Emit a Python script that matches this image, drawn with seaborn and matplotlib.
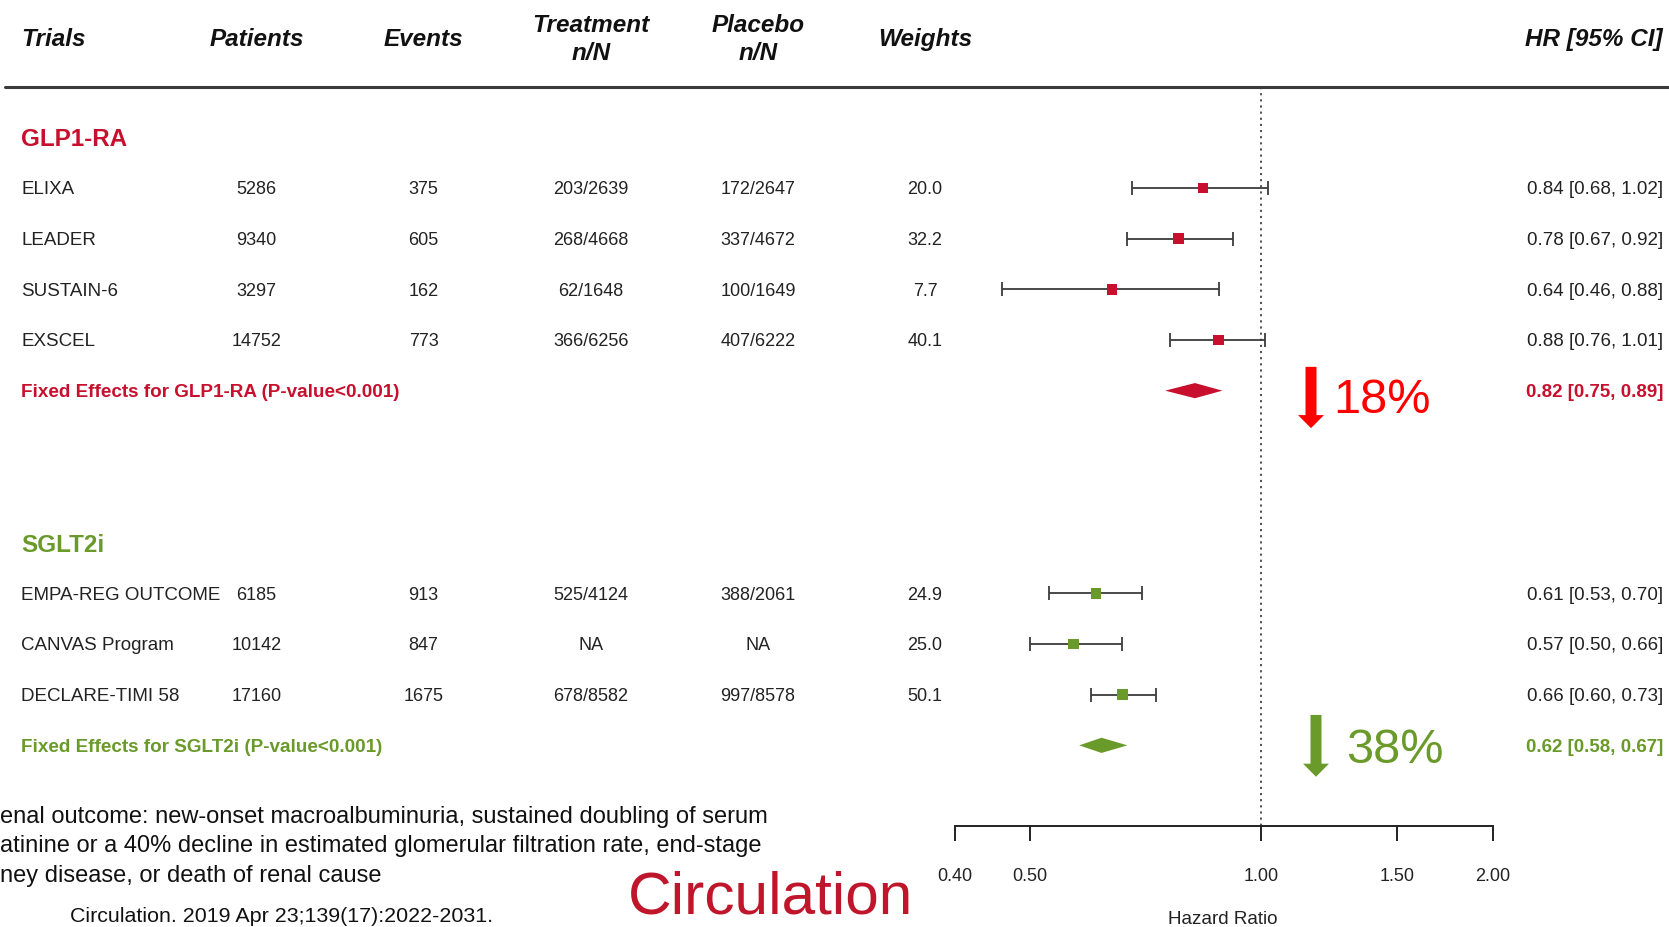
import matplotlib
matplotlib.use('Agg')
import matplotlib.pyplot as plt
import matplotlib.transforms as mtransforms
from matplotlib import font_manager
from matplotlib.ticker import NullLocator
import seaborn as sns
import numpy as np
import pandas as pd

# ---- data ----
GLP_TRIALS = ['ELIXA', 'LEADER', 'SUSTAIN-6', 'EXSCEL']
GLP_PATIENTS = [5286, 9340, 3297, 14752]
GLP_EVENTS = [375, 605, 162, 773]
GLP_TREAT = ['203/2639', '268/4668', '62/1648', '366/6256']
GLP_PLACEBO = ['172/2647', '337/4672', '100/1649', '407/6222']
GLP_WEIGHTS = [20.0, 32.2, 7.7, 40.1]
GLP_HR = [0.84, 0.78, 0.64, 0.88]
GLP_LO = [0.68, 0.67, 0.46, 0.76]
GLP_HI = [1.02, 0.92, 0.88, 1.01]
GLP_POOLED = [0.82, 0.75, 0.89]

SGLT_TRIALS = ['EMPA-REG OUTCOME', 'CANVAS Program', 'DECLARE-TIMI 58']
SGLT_PATIENTS = [6185, 10142, 17160]
SGLT_EVENTS = [913, 847, 1675]
SGLT_TREAT = ['525/4124', 'NA', '678/8582']
SGLT_PLACEBO = ['388/2061', 'NA', '997/8578']
SGLT_WEIGHTS = [24.9, 25.0, 50.1]
SGLT_HR = [0.61, 0.57, 0.66]
SGLT_LO = [0.53, 0.50, 0.60]
SGLT_HI = [0.70, 0.66, 0.73]
SGLT_POOLED = [0.62, 0.58, 0.67]

HEADERS = ['Trials', 'Patients', 'Events', 'Treatment\nn/N', 'Placebo\nn/N', 'Weights']
X_TICKS = [0.40, 0.50, 1.00, 1.50, 2.00]
REDUCTIONS = ['18%', '38%']

FOOTNOTE = ['enal outcome: new-onset macroalbuminuria, sustained doubling of serum',
            'atinine or a 40% decline in estimated glomerular filtration rate, end-stage',
            'ney disease, or death of renal cause']
CITATION = 'Circulation. 2019 Apr 23;139(17):2022-2031.'

RED = '#C8102E'
GREEN = '#6A9A2A'
ARROW_RED = '#FF0000'

# ---- layout (pixels of a 1669 x 927 canvas) ----
W, H = 1669, 927
sns.set_theme(style='white')
plt.rcParams['font.family'] = ['Liberation Sans', 'DejaVu Sans']
_names = {f.name for f in font_manager.fontManager.ttflist}
NARROW = 'Liberation Sans Narrow' if 'Liberation Sans Narrow' in _names else None

fig = plt.figure(figsize=(W / 100, H / 100), dpi=100)
ax = fig.add_axes([0, 0, 1, 1])
ax.set_xscale('log')

# x: 0.40 sits at 955 px, 2.00 at 1493 px
x04, x20 = 955.0, 1493.0
k = (x20 - x04) / np.log(2.0 / 0.4)
ax.set_xlim(0.4 * np.exp(-x04 / k), 2.0 * np.exp((W - x20) / k))
# y: one unit per row, row 0 (GLP1-RA label) at 137 px, 50.7 px per row
y0, dy = 137.3, 50.67
ax.set_ylim((H - y0) / dy, -y0 / dy)

tr = mtransforms.blended_transform_factory(ax.transAxes, ax.transData)
def fx(px):
    return px / W

# ---- table frame ----
rows = []
for i in range(len(GLP_TRIALS)):
    rows.append(dict(group='GLP1-RA', trial=GLP_TRIALS[i], patients=GLP_PATIENTS[i],
                     events=GLP_EVENTS[i], treat=GLP_TREAT[i], placebo=GLP_PLACEBO[i],
                     weight=GLP_WEIGHTS[i], hr=GLP_HR[i], lo=GLP_LO[i], hi=GLP_HI[i],
                     row=1 + i))
for i in range(len(SGLT_TRIALS)):
    rows.append(dict(group='SGLT2i', trial=SGLT_TRIALS[i], patients=SGLT_PATIENTS[i],
                     events=SGLT_EVENTS[i], treat=SGLT_TREAT[i], placebo=SGLT_PLACEBO[i],
                     weight=SGLT_WEIGHTS[i], hr=SGLT_HR[i], lo=SGLT_LO[i], hi=SGLT_HI[i],
                     row=9 + i))
df = pd.DataFrame(rows)
pooled = pd.DataFrame({'group': ['GLP1-RA', 'SGLT2i'],
                       'est': [GLP_POOLED[0], SGLT_POOLED[0]],
                       'lo': [GLP_POOLED[1], SGLT_POOLED[1]],
                       'hi': [GLP_POOLED[2], SGLT_POOLED[2]],
                       'label_row': [0, 8], 'row': [5, 12],
                       'color': [RED, GREEN]})
palette = {'GLP1-RA': RED, 'SGLT2i': GREEN}

# ---- header ----
col_x = [21, 256.5, 423.6, 590.7, 757.9, 925]
for j, (h, cx) in enumerate(zip(HEADERS, col_x)):
    ax.text(fx(cx), -1.93, h, transform=tr, ha='left' if j == 0 else 'center',
            va='center', fontsize=17.5, fontweight='bold', fontstyle='italic',
            color='#111111', linespacing=1.32)
ax.text(fx(1663), -1.93, 'HR [95% CI]', transform=tr, ha='right', va='center',
        fontsize=17.5, fontweight='bold', fontstyle='italic', color='#111111')
ax.axhline(-1, xmin=5 / W, xmax=1, color='#3a3a3a', lw=2.2)

# ---- table text ----
for _, r in df.iterrows():
    vals = [r.trial, str(r.patients), str(r.events), r.treat, r.placebo, f'{r.weight:.1f}']
    for j, (v, cx) in enumerate(zip(vals, col_x)):
        ax.text(fx(cx), r.row, v, transform=tr, ha='left' if j == 0 else 'center',
                va='center_baseline', fontsize=13.5 if j == 0 else 13, color='#222222')
    ax.text(fx(1663), r.row, f'{r.hr:.2f} [{r.lo:.2f}, {r.hi:.2f}]', transform=tr,
            ha='right', va='center_baseline', fontsize=13.5, color='#222222')

for _, p in pooled.iterrows():
    ax.text(fx(21), p.label_row, p.group, transform=tr, ha='left', va='center_baseline',
            fontsize=17.5, fontweight='bold', color=p.color)
    ax.text(fx(21), p.row, f'Fixed Effects for {p.group} (P-value<0.001)', transform=tr,
            ha='left', va='center_baseline', fontsize=13.6, fontweight='bold', color=p.color)
    ax.text(fx(1663), p.row, f'{p.est:.2f} [{p.lo:.2f}, {p.hi:.2f}]', transform=tr,
            ha='right', va='center_baseline', fontsize=13.5, fontweight='bold', color=p.color)

# ---- forest marks ----
ax.vlines(1.0, -1, 13.59, colors='#444444', linestyles=(0, (1.2, 2.2)), lw=1.3, zorder=1)
ax.errorbar(df['hr'], df['row'], xerr=[df['hr'] - df['lo'], df['hi'] - df['hr']],
            fmt='none', ecolor='#3c3c3c', elinewidth=1.3, capsize=5, capthick=1.3, zorder=2)
sns.scatterplot(data=df, x='hr', y='row', hue='group', palette=palette, marker='s',
                s=60, linewidth=0, legend=False, ax=ax, zorder=3)
half = 0.15
for _, p in pooled.iterrows():
    ax.fill([p.lo, p.est, p.hi, p.est], [p.row, p.row - half, p.row, p.row + half],
            color=p.color, lw=0, zorder=3)

# ---- bottom axis ----
for s in ['top', 'left', 'right']:
    ax.spines[s].set_visible(False)
ax.spines['bottom'].set_position(('data', 13.59))
ax.spines['bottom'].set_bounds(0.4, 2.0)
ax.spines['bottom'].set_color('#222222')
ax.spines['bottom'].set_linewidth(1.4)
ax.set_xlabel('')
ax.set_ylabel('')
ax.set_yticks([])
ax.set_xticks(X_TICKS)
ax.set_xticklabels([f'{t:.2f}' for t in X_TICKS])
ax.xaxis.set_minor_locator(NullLocator())
ax.tick_params(axis='x', direction='out', length=11, width=1.4, color='#222222',
               labelsize=13, labelcolor='#222222', pad=19, bottom=True)
ax.text(fx(1223), 15.43, 'Hazard Ratio', transform=tr, ha='center', va='center',
        fontsize=13.6, color='#222222')
ax.grid(False)

# ---- reduction arrows ----
narrow_kw = dict(family=NARROW, fontsize=40) if NARROW else dict(fontsize=35)
arrows = [(1311.0, 4.53, 5.74, ARROW_RED, 1333.0, 5.2, REDUCTIONS[0]),
          (1316.0, 11.40, 12.62, GREEN, 1346.0, 12.1, REDUCTIONS[1])]
for ax_px, ytop, ytip, c, tx, ty, txt in arrows:
    ax.annotate('', xy=(fx(ax_px), ytip), xytext=(fx(ax_px), ytop), xycoords=tr,
                textcoords=tr,
                arrowprops=dict(arrowstyle='simple,head_length=9.4,head_width=18.7,tail_width=7.9',
                                mutation_scale=1, color=c, lw=0, shrinkA=0, shrinkB=0))
    ax.text(fx(tx), ty, txt, transform=tr, ha='left', va='center', color=c, **narrow_kw)

# ---- footnote ----
for i, line in enumerate(FOOTNOTE):
    fig.text(0, 1 - (817 + 29.3 * i) / H, line, ha='left', va='center',
             fontsize=17, color='#111111')
fig.text(70 / W, 1 - 916 / H, CITATION, ha='left', va='center', fontsize=15.4,
         color='#111111')
fig.text(628 / W, 1 - 913 / H, 'Circulation', ha='left', va='baseline', fontsize=43.5,
         color='#C0162C')

fig.savefig('out.png', dpi=100)
